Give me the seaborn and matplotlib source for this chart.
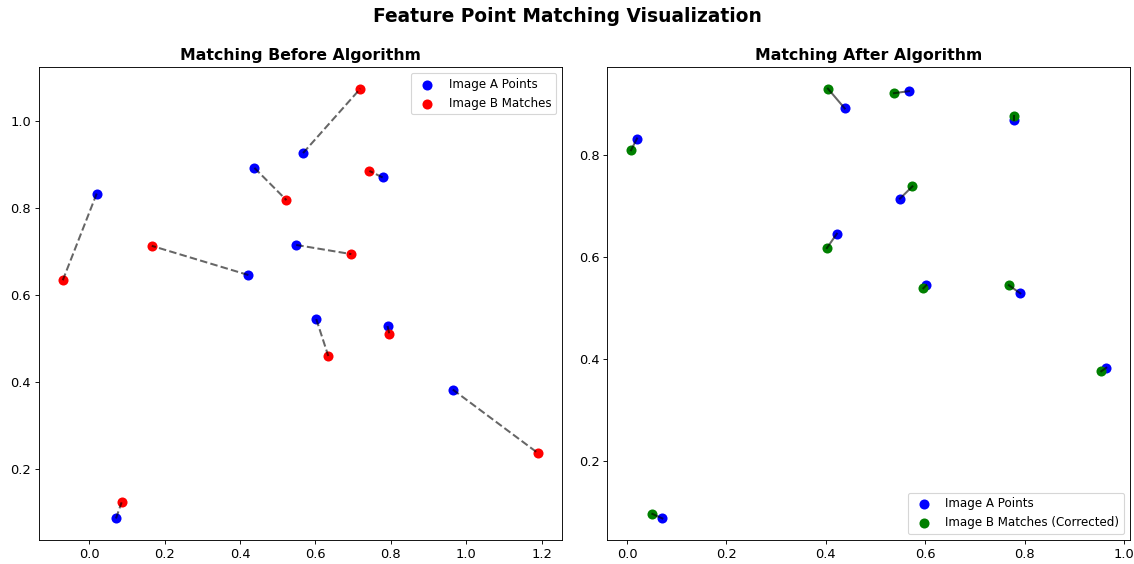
import numpy as np
import pandas as pd
import matplotlib
matplotlib.use("Agg")
import matplotlib.pyplot as plt
import seaborn as sns

# Image A feature points (shared by both panels)
a_x = [0.020, 0.438, 0.567, 0.778, 0.549, 0.422, 0.602, 0.791, 0.964, 0.071]
a_y = [0.833, 0.892, 0.926, 0.870, 0.715, 0.646, 0.545, 0.529, 0.383, 0.087]

# Image B matches before algorithm
b_before_x = [-0.070, 0.523, 0.719, 0.743, 0.695, 0.166, 0.634, 0.796, 1.190, 0.086]
b_before_y = [0.634, 0.818, 1.074, 0.885, 0.694, 0.713, 0.460, 0.510, 0.237, 0.124]

# Image B matches after algorithm (corrected)
b_after_x = [0.008, 0.404, 0.537, 0.778, 0.574, 0.402, 0.596, 0.768, 0.954, 0.051]
b_after_y = [0.810, 0.931, 0.922, 0.878, 0.739, 0.618, 0.539, 0.545, 0.376, 0.096]

W, H, DPI = 1134, 564, 81
fig, axes = plt.subplots(1, 2, figsize=(W / DPI, H / DPI), dpi=DPI)
fig.subplots_adjust(left=0.0344, right=0.9965, top=0.881, bottom=0.0426, wspace=0.087)

def panel(ax, bx, by, bcolor, blabel, title, ls, loc):
    sns.scatterplot(x=a_x, y=a_y, color="blue", s=80, linewidth=0, label="Image A Points", ax=ax, zorder=2)
    sns.scatterplot(x=bx, y=by, color=bcolor, s=80, linewidth=0, label=blabel, ax=ax, zorder=2)
    for x1, y1, x2, y2 in zip(a_x, a_y, bx, by):
        ax.plot([x1, x2], [y1, y2], color="black", linestyle=ls, alpha=0.6, linewidth=1.8, zorder=3)
    ax.set_title(title, fontsize=14, fontweight="bold")
    ax.legend(loc=loc, fontsize=10.5)
    ax.tick_params(labelsize=11.5)

panel(axes[0], b_before_x, b_before_y, "red", "Image B Matches",
      "Matching Before Algorithm", "--", "upper right")
panel(axes[1], b_after_x, b_after_y, "green", "Image B Matches (Corrected)",
      "Matching After Algorithm", "-", "lower right")

fig.suptitle("Feature Point Matching Visualization", fontsize=16.5, fontweight="bold", y=0.988)
fig.savefig("out.png", dpi=DPI)
